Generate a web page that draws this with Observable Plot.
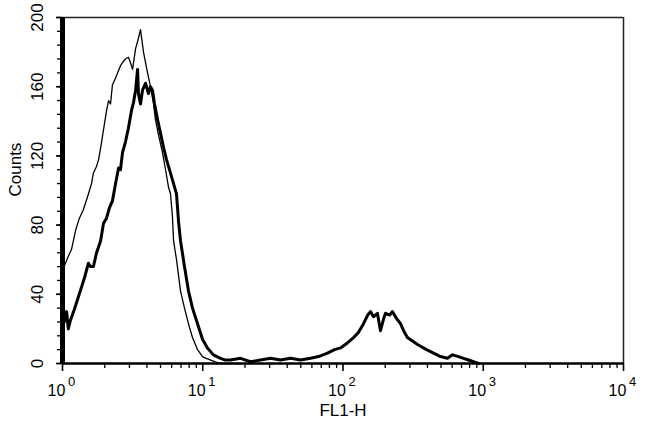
<!DOCTYPE html>
<html>
<head>
<meta charset="utf-8">
<script src="https://cdn.jsdelivr.net/npm/d3@7"></script>
<script src="https://cdn.jsdelivr.net/npm/@observablehq/plot@0.6"></script>
<style>
  html, body { margin: 0; padding: 0; background: #fff; }
  #chart svg { display: block; }
</style>
</head>
<body>
<div id="chart"></div>
<script>
// Control (thin line) histogram
const controlFL = [1.00,1.05,1.10,1.16,1.24,1.32,1.41,1.53,1.61,1.66,1.75,1.81,1.90,1.96,2.06,2.13,2.20,2.27,2.39,2.47,2.59,2.68,2.81,2.95,3.05,3.16,3.32,3.48,3.60,3.78,4.04,4.24,4.46,4.60,4.84,5.16,5.43,5.70,5.89,6.08,6.19,6.50,6.94,7.41,7.91,8.45,9.18,9.96,10.6,11.4,12.3,13.4,15.8,18.6];
const controlCounts = [54,58,62,66,77,84,89,98,104,110,114,118,128,135,146,152,150,161,165,168,172,174,176,177,174,170,182,188,193,180,168,160,150,141,132,122,112,102,98,85,71,60,42,32,23,15,8,4,3,2,1,0,0,0];

// Stained (thick line) histogram
const stainedFL = [1.00,1.03,1.07,1.10,1.14,1.20,1.28,1.34,1.44,1.53,1.58,1.66,1.75,1.87,1.96,2.06,2.16,2.27,2.39,2.51,2.59,2.68,2.81,2.95,3.10,3.21,3.32,3.43,3.48,3.60,3.72,3.91,4.10,4.24,4.38,4.53,4.76,5.00,5.25,5.51,5.89,6.19,6.50,6.72,6.94,7.41,7.91,8.45,9.18,9.96,10.8,11.9,13.4,14.5,15.8,18.6,21.9,25.8,30.4,35.8,42.3,49.8,58.7,66.9,77.5,87.0,96.0,108,119,129,140,150,157,165,176,185,195,201,215,225,241,257,274,288,313,340,357,394,442,496,556,604,666,723,785,852,925];
const stainedCounts = [28,24,30,20,25,30,37,42,50,58,56,56,64,71,81,84,90,94,104,113,112,122,128,136,146,151,158,170,156,150,158,162,156,160,158,150,141,133,125,118,110,104,98,82,71,56,42,32,23,14,9,5,3,2,2,3,1,2,3,2,3,2,3,4,6,8,9,12,15,18,23,28,30,27,29,19,26,29,28,30,26,23,18,15,13,11,10,8,6,4,3,5,4,3,2,1,0];

// Axis ticks
const yMajor = [0, 40, 80, 120, 160, 200];
const yMinor = d3.range(0, 201, 8);
const xMajor = [1, 10, 100, 1000, 10000];
const xExponents = ["0", "1", "2", "3", "4"];
const xMinor = [2,3,4,5,6,7,8,9,20,30,40,50,60,70,80,90,200,300,400,500,600,700,800,900,2000,3000,4000,5000,6000,7000,8000,9000];
const xLabel = "FL1-H";
const yLabel = "Counts";

const control = controlFL.map((v, i) => ({fl: v, count: controlCounts[i]}));
const stained = stainedFL.map((v, i) => ({fl: v, count: stainedCounts[i]}));
const expo = xMajor.map((v, i) => ({v, e: xExponents[i]}));

const chart = Plot.plot({
  width: 650,
  height: 423,
  marginTop: 17,
  marginRight: 27,
  marginBottom: 60,
  marginLeft: 62,
  style: {background: "white", color: "black", fontFamily: "Liberation Sans, Arial, sans-serif"},
  x: {type: "log", domain: [1, 10000], axis: null},
  y: {domain: [0, 200], axis: null},
  marks: [
    Plot.axisY({ticks: yMinor, tickSize: 5, tickFormat: () => "", label: null, strokeWidth: 1.3}),
    Plot.axisY({ticks: yMajor, tickSize: 6, tickFormat: () => "", label: null, strokeWidth: 1.6}),
    Plot.axisX({ticks: xMinor, tickSize: 5, tickFormat: () => "", label: null, strokeWidth: 1.3}),
    Plot.axisX({ticks: xMajor, tickSize: 8, tickFormat: () => "", label: null, strokeWidth: 1.6}),
    Plot.ruleY([200], {stroke: "#222", strokeWidth: 1.5}),
    Plot.ruleX([10000], {stroke: "#222", strokeWidth: 1.5}),
    Plot.line(control, {x: "fl", y: "count", stroke: "black", strokeWidth: 1.3}),
    Plot.line(stained, {x: "fl", y: "count", stroke: "black", strokeWidth: 3}),
    Plot.ruleY([0], {stroke: "black", strokeWidth: 2.5}),
    Plot.ruleX([1], {stroke: "black", strokeWidth: 5}),
    Plot.text(yMajor, {x: () => 1, y: d => d, text: d => String(d), rotate: -90, dx: -25, fontSize: 17, textAnchor: "middle", lineAnchor: "middle"}),
    Plot.text(expo, {x: "v", frameAnchor: "bottom", text: () => "10", dx: -6, dy: 27, fontSize: 16, textAnchor: "middle", lineAnchor: "middle"}),
    Plot.text(expo, {x: "v", frameAnchor: "bottom", text: "e", dx: 9, dy: 18, fontSize: 13, textAnchor: "middle", lineAnchor: "middle"}),
    Plot.text([xLabel], {frameAnchor: "bottom", text: d => d, dy: 47, fontSize: 17, lineAnchor: "middle"}),
    Plot.text([yLabel], {frameAnchor: "left", text: d => d, dx: -47, dy: 6, rotate: -90, fontSize: 17, lineAnchor: "middle"})
  ]
});
document.getElementById("chart").appendChild(chart);
</script>
</body>
</html>
